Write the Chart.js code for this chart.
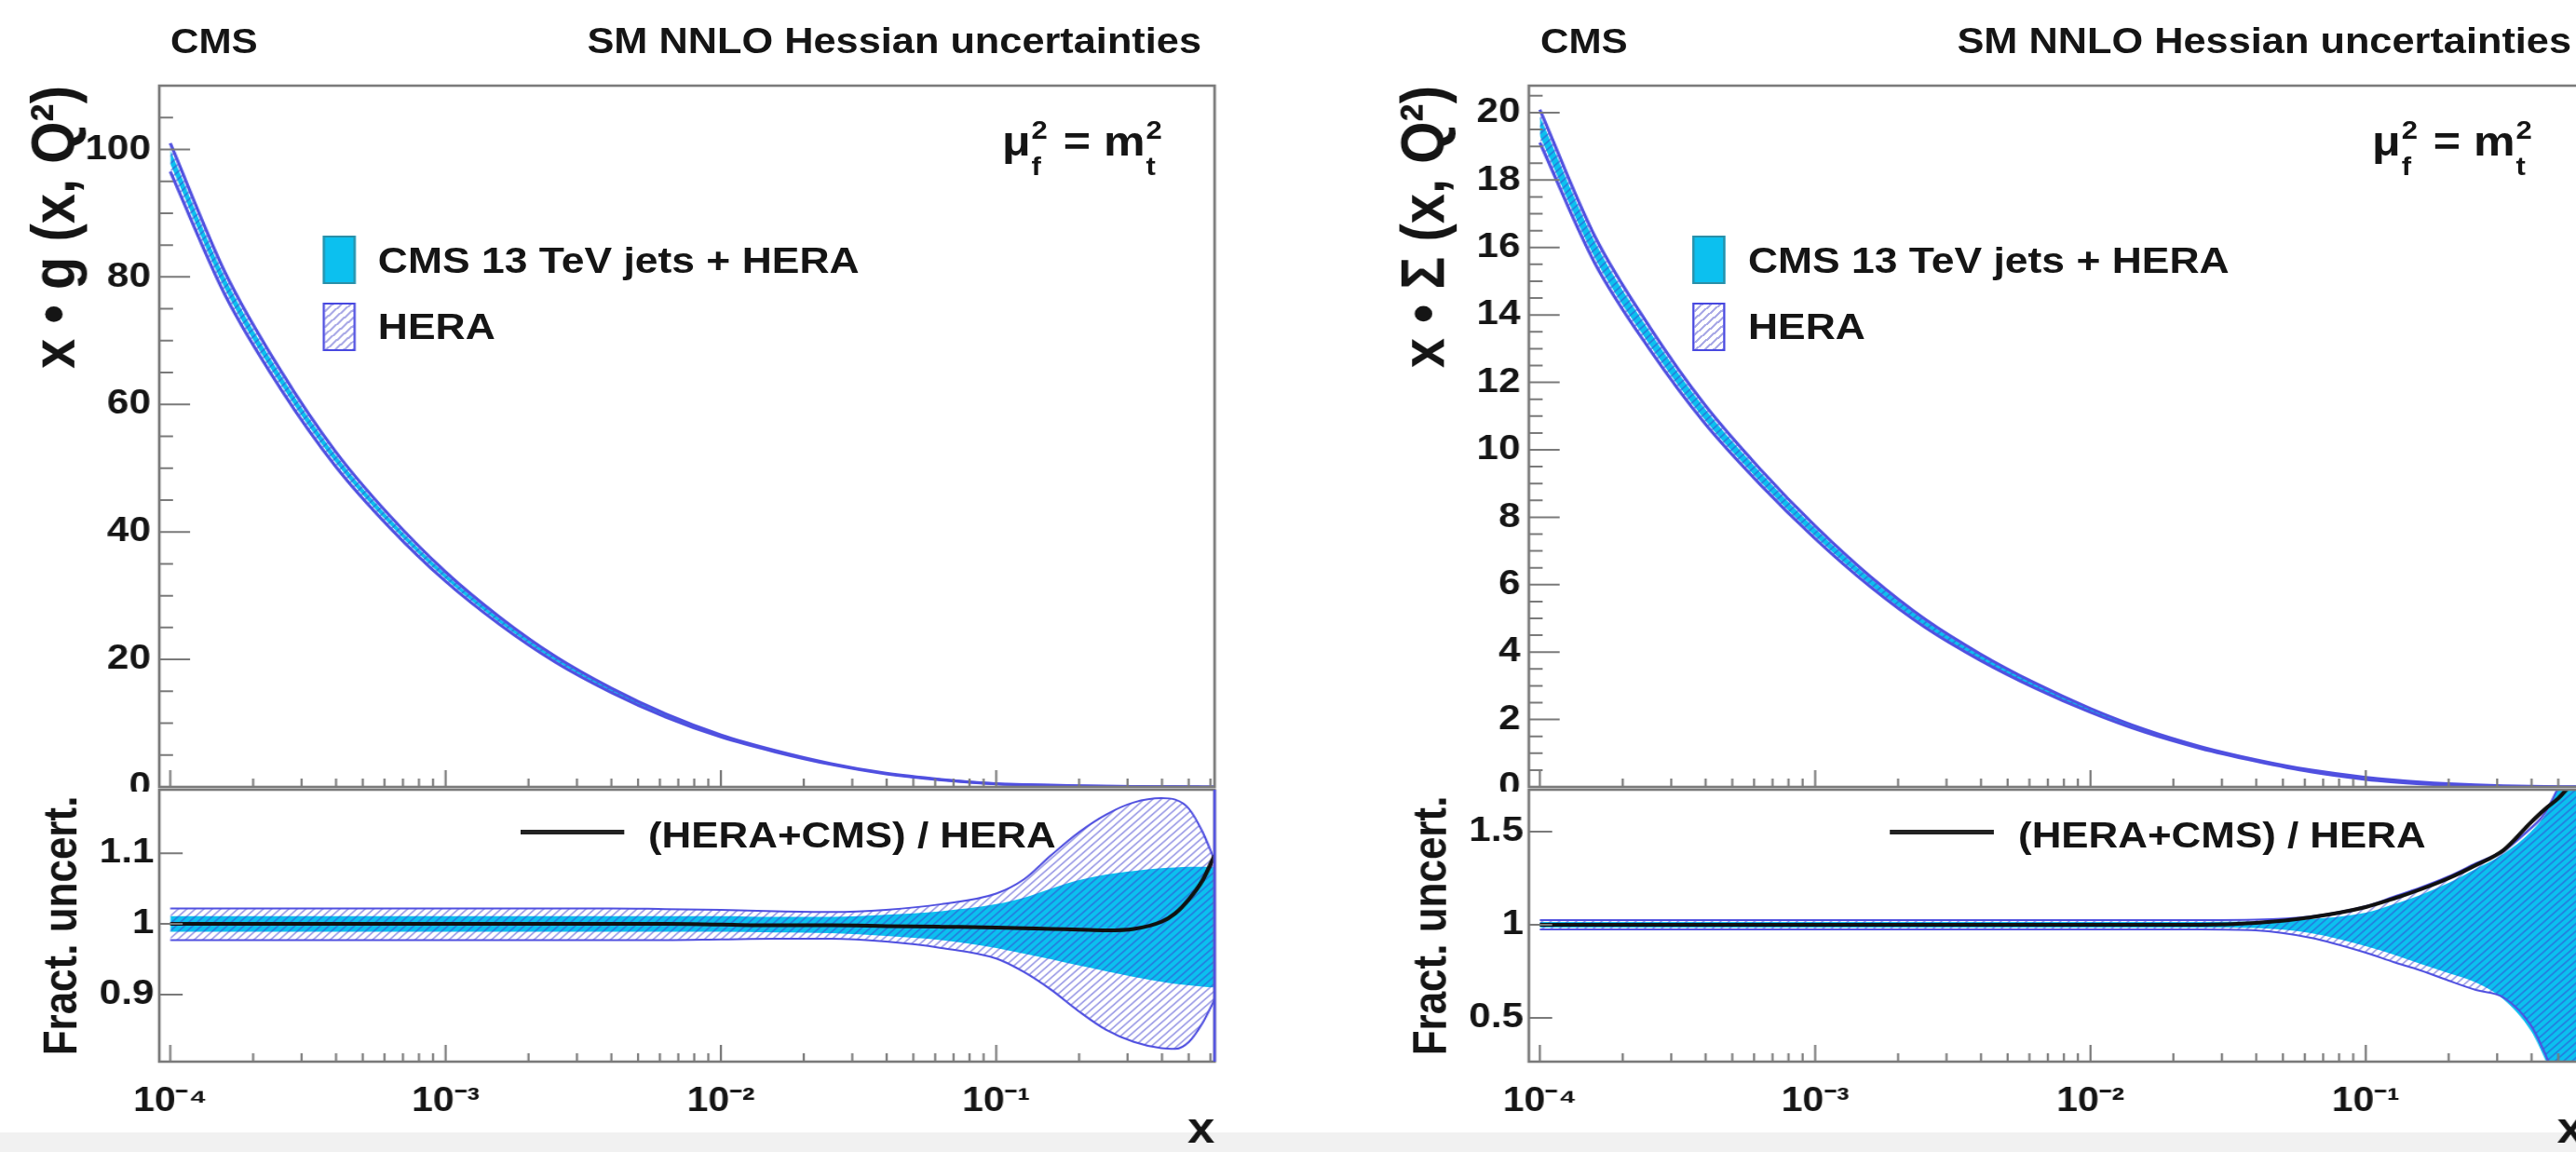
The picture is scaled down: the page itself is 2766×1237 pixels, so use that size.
<!DOCTYPE html>
<html>
<head>
<meta charset="utf-8">
<script src="https://cdn.jsdelivr.net/npm/chart.js@4.4.0/dist/chart.umd.min.js"></script>
<style>
  html, body { margin: 0; padding: 0; background: #fff; overflow: hidden; width: 2766px; height: 1237px; }
  #stage { position: absolute; left: 0; top: 0; width: 2460px; height: 1237px; transform: scaleX(1.14); transform-origin: 0 0; }
  #strip { position: absolute; left: 0; top: 1216px; width: 2460px; height: 21px; background: #f1f1f1; }
  canvas { position: absolute; }
  .t { position: absolute; font-family: "Liberation Sans", Arial, Helvetica, sans-serif; font-weight: bold; color: #151515; line-height: 1; white-space: nowrap; }
  .ss { display: inline-block; position: relative; width: 0.42em; height: 0; }
  .ss .up { position: absolute; left: 0.03em; bottom: 0.5em; font-size: 0.62em; line-height: 1; }
  .ss .dn { position: absolute; left: 0.03em; top: -0.05em; font-size: 0.62em; line-height: 1; }
  .box { position: absolute; width: 31.5px; height: 52px; box-sizing: border-box; }
  .cyanbox { background: #0cc0ef; border: 2px solid #2a8fa8; }
  .herabox { border: 2.5px solid #4848e0; background: repeating-linear-gradient(135deg, #fff 0 4px, #a9a9e6 4px 6px); }
  .lline { position: absolute; height: 5px; width: 98px; background: #222; }
</style>
</head>
<body>
<div id="stage">
  <div id="strip"></div>
</div>
<script>
// x grid shared by all curves
const xGrid = [0.0001, 0.000158, 0.000251, 0.000398, 0.000631, 0.001, 0.00158, 0.00251, 0.00398, 0.00631,
               0.01, 0.0158, 0.0251, 0.0398, 0.0631, 0.1, 0.126, 0.158, 0.2, 0.251,
               0.316, 0.398, 0.447, 0.501, 0.562, 0.621];

// upper panels: HERA central values
const gluonHera = [98.8, 79, 64, 51.5, 41.5, 33, 26, 20.0, 15.2, 11.2,
                   8.0, 5.6, 3.6, 2.1, 1.15, 0.5, 0.36, 0.25, 0.17, 0.11,
                   0.07, 0.04, 0.03, 0.02, 0.015, 0.01];
const sigmaHera = [19.6, 15.95, 13.3, 11.05, 9.2, 7.55, 6.1, 4.85, 3.85, 3.0,
                   2.27, 1.66, 1.17, 0.79, 0.48, 0.26, 0.18, 0.12, 0.075, 0.045,
                   0.025, 0.012, 0.008, 0.005, 0.004, 0.003];

// lower panels: fractional uncertainties (gluon)
const gHeraUp = [1.022, 1.022, 1.022, 1.022, 1.022, 1.022, 1.022, 1.022, 1.022, 1.021,
                 1.020, 1.018, 1.017, 1.020, 1.028, 1.043, 1.063, 1.097, 1.130, 1.155,
                 1.172, 1.178, 1.176, 1.163, 1.130, 1.090];
const gHeraDn = [0.977, 0.977, 0.977, 0.977, 0.977, 0.977, 0.977, 0.977, 0.977, 0.977,
                 0.978, 0.979, 0.979, 0.975, 0.966, 0.951, 0.932, 0.907, 0.876, 0.850,
                 0.833, 0.824, 0.823, 0.833, 0.860, 0.893];
const gCmsUp  = [1.011, 1.011, 1.011, 1.011, 1.011, 1.011, 1.011, 1.011, 1.011, 1.011,
                 1.011, 1.010, 1.010, 1.013, 1.018, 1.028, 1.037, 1.050, 1.062, 1.070,
                 1.075, 1.079, 1.080, 1.081, 1.081, 1.081];
const gCmsDn  = [0.989, 0.989, 0.989, 0.989, 0.989, 0.989, 0.989, 0.989, 0.989, 0.989,
                 0.989, 0.988, 0.987, 0.983, 0.977, 0.966, 0.958, 0.950, 0.941, 0.933,
                 0.925, 0.918, 0.915, 0.913, 0.911, 0.910];
const gRatio  = [1.0, 1.0, 1.0, 1.0, 1.0, 1.0, 1.0, 1.0, 1.0, 1.0,
                 0.999, 0.998, 0.998, 0.997, 0.996, 0.995, 0.994, 0.993, 0.992, 0.991,
                 0.993, 1.003, 1.015, 1.035, 1.062, 1.097];

// lower panels: fractional uncertainties (sigma)
const sHeraUp = [1.025, 1.025, 1.025, 1.025, 1.025, 1.025, 1.025, 1.025, 1.025, 1.025,
                 1.025, 1.025, 1.025, 1.027, 1.045, 1.10, 1.15, 1.20, 1.26, 1.33,
                 1.40, 1.52, 1.60, 1.74, 1.90, 2.0];
const sHeraDn = [0.975, 0.975, 0.975, 0.975, 0.975, 0.975, 0.975, 0.975, 0.975, 0.975,
                 0.975, 0.975, 0.975, 0.970, 0.930, 0.850, 0.800, 0.755, 0.700, 0.650,
                 0.610, 0.460, 0.310, 0.130, 0.0, -0.1];
const sCmsUp  = [1.015, 1.015, 1.015, 1.015, 1.015, 1.015, 1.015, 1.015, 1.015, 1.015,
                 1.015, 1.015, 1.015, 1.017, 1.030, 1.065, 1.11, 1.16, 1.225, 1.30,
                 1.38, 1.50, 1.59, 1.74, 1.90, 2.0];
const sCmsDn  = [0.985, 0.985, 0.985, 0.985, 0.985, 0.985, 0.985, 0.985, 0.985, 0.985,
                 0.985, 0.985, 0.985, 0.982, 0.955, 0.885, 0.840, 0.790, 0.740, 0.690,
                 0.600, 0.430, 0.280, 0.100, -0.05, -0.15];
const sRatio  = [1.0, 1.0, 1.0, 1.0, 1.0, 1.0, 1.0, 1.0, 1.0, 1.0,
                 1.0, 1.0, 1.0, 1.01, 1.04, 1.095, 1.14, 1.19, 1.25, 1.32,
                 1.40, 1.55, 1.62, 1.68, 1.76, 1.82];

// axis ticks and labels
const xDecades = [1e-4, 1e-3, 1e-2, 1e-1];
const xDecadeLabels = ['10\u207B\u2074', '10\u207B\u00B3', '10\u207B\u00B2', '10\u207B\u00B9'];
const gUpperTicks = [0, 20, 40, 60, 80, 100];
const sUpperTicks = [0, 2, 4, 6, 8, 10, 12, 14, 16, 18, 20];
const gLowerTicks = [0.9, 1, 1.1];
const sLowerTicks = [0.5, 1, 1.5];

const X_MIN = 9.12e-5, X_MAX = 0.621;
const CYAN = '#0cc0ef';
const HERA_LINE = '#5050e0';
const FRAME = '#7a7a7a';
const FONT = '"Liberation Sans", Arial, Helvetica, sans-serif';
const TXT = '#151515';

const stage = document.getElementById('stage');

function addText(html, css) {
  const d = document.createElement('div');
  d.className = 't';
  d.innerHTML = html;
  Object.assign(d.style, css);
  stage.appendChild(d);
  return d;
}

function addCanvas(left, top, w, h) {
  const c = document.createElement('canvas');
  c.width = w; c.height = h;
  c.style.left = left + 'px'; c.style.top = top + 'px';
  stage.appendChild(c);
  return c;
}

function hatchFor(canvas) {
  const step = 8;
  const tile = document.createElement('canvas');
  tile.width = tile.height = step;
  const g = tile.getContext('2d');
  g.strokeStyle = 'rgba(60,60,205,0.55)';
  g.lineWidth = 1.5;
  g.beginPath();
  g.moveTo(0, step); g.lineTo(step, 0);
  g.moveTo(-2, 2); g.lineTo(2, -2);
  g.moveTo(step - 2, step + 2); g.lineTo(step + 2, step - 2);
  g.stroke();
  return canvas.getContext('2d').createPattern(tile, 'repeat');
}

// ROOT-like frame with inward ticks
const rootFrame = {
  id: 'rootFrame',
  afterDatasetsDraw(chart, args, o) {
    const { ctx, chartArea: a, scales: { x, y } } = chart;
    ctx.save();
    ctx.strokeStyle = FRAME;
    ctx.lineWidth = 2;
    ctx.beginPath();
    o.yMajor.forEach(v => {
      const py = y.getPixelForValue(v);
      ctx.moveTo(a.left, py); ctx.lineTo(a.left + o.yMajorLen, py);
    });
    if (o.yMinorStep) {
      for (let v = y.min; v <= y.max + 1e-9; v += o.yMinorStep) {
        const r = Math.round(v / o.yMinorStep) * o.yMinorStep;
        if (r < y.min || r > y.max) continue;
        const py = y.getPixelForValue(r);
        ctx.moveTo(a.left, py); ctx.lineTo(a.left + o.yMinorLen, py);
      }
    }
    xDecades.forEach(d => {
      const px = x.getPixelForValue(d);
      ctx.moveTo(px, a.bottom); ctx.lineTo(px, a.bottom - o.xMajorLen);
      for (let k = 2; k <= 9; k++) {
        const v = d * k;
        if (v > x.max) break;
        const pm = x.getPixelForValue(v);
        ctx.moveTo(pm, a.bottom); ctx.lineTo(pm, a.bottom - o.xMinorLen);
      }
    });
    ctx.stroke();
    ctx.lineWidth = 2.6;
    ctx.strokeRect(a.left, a.top, a.width, a.height);
    if (o.rightEdge) {
      ctx.strokeStyle = o.rightEdge;
      ctx.beginPath();
      ctx.moveTo(a.right, a.top); ctx.lineTo(a.right, a.bottom);
      ctx.stroke();
    }
    ctx.restore();
  }
};

function pts(vals, scale) {
  return xGrid.map((x, i) => ({ x: x, y: scale ? scale[i] * vals[i] : vals[i] }));
}

function bandSets(hatch, heraUp, heraDn, cmsUp, cmsDn, central, lineW) {
  return [
    { data: pts(cmsDn, central), order: 4, borderWidth: 0, fill: false },
    { data: pts(cmsUp, central), order: 3, borderWidth: 0, fill: 0, backgroundColor: CYAN },
    { data: pts(heraDn, central), order: 2, borderColor: HERA_LINE, borderWidth: lineW, fill: false },
    { data: pts(heraUp, central), order: 1, borderColor: HERA_LINE, borderWidth: lineW, fill: 2, backgroundColor: hatch }
  ];
}

function baseOptions(frameOpts) {
  return {
    responsive: false,
    animation: false,
    events: [],
    elements: { point: { radius: 0 }, line: { cubicInterpolationMode: 'monotone' } },
    plugins: {
      legend: { display: false },
      tooltip: { enabled: false },
      filler: { drawTime: 'beforeDatasetsDraw' },
      rootFrame: frameOpts
    }
  };
}

function yScale(min, max, ticks, title, titleSize, titlePad, align, labelPad) {
  return {
    min: min, max: max,
    afterFit(s) { s.width = 150; s.paddingTop = 0; s.paddingBottom = 0; },
    afterBuildTicks(s) { s.ticks = ticks.map(v => ({ value: v })); },
    grid: { display: false, drawTicks: false },
    border: { display: false },
    ticks: { color: TXT, padding: labelPad, font: { family: FONT, size: 37, weight: 'bold' }, callback: v => String(v) },
    title: { display: true, text: title, align: align, color: TXT, padding: { top: titlePad, bottom: 0 },
             font: { family: FONT, size: titleSize, weight: 'bold', lineHeight: 1 } }
  };
}

function makePanel(off, p) {
  // upper
  const cu = addCanvas(off, 0, 1164, 850);
  const optU = baseOptions({ yMajor: p.upTicks, yMajorLen: 29, yMinorStep: p.upMinor, yMinorLen: 13, xMajorLen: 18, xMinorLen: 9 });
  optU.layout = { padding: { left: 0, top: 86, right: 20, bottom: 5 } };
  optU.scales = {
    x: { type: 'logarithmic', min: X_MIN, max: X_MAX, display: false },
    y: yScale(0, p.upMax, p.upTicks, p.upTitle, 58, 25, 'end', 8)
  };
  // keep the frame top at 92 while letting the title start a little higher
  optU.scales.y.afterFit = function (s) { s.width = 150; s.paddingTop = 0; s.paddingBottom = 0; };
  optU.layout.padding.top = 92;
  new Chart(cu, {
    type: 'line',
    data: { datasets: bandSets(hatchFor(cu), p.heraUp, p.heraDn, p.cmsUp, p.cmsDn, p.central, 3) },
    options: optU,
    plugins: [rootFrame]
  });

  // lower
  const cl = addCanvas(off, 840, 1164, 397);
  const optL = baseOptions({ yMajor: p.loTicks, yMajorLen: 22, yMinorStep: 0, xMajorLen: 18, xMinorLen: 9, rightEdge: p.rightEdge });
  optL.layout = { padding: { left: 0, top: 8, right: 20, bottom: 0 } };
  optL.scales = {
    x: {
      type: 'logarithmic', min: X_MIN, max: X_MAX,
      afterFit(s) { s.height = 97; s.paddingLeft = 0; s.paddingRight = 0; },
      afterBuildTicks(s) { s.ticks = xDecades.map(v => ({ value: v })); },
      grid: { display: false, drawTicks: false },
      border: { display: false },
      ticks: { color: TXT, padding: 21, autoSkip: false, maxRotation: 0,
               font: { family: FONT, size: 36, weight: 'bold' },
               callback: v => xDecadeLabels[xDecades.indexOf(v)] },
      title: { display: true, text: 'x', align: 'end', color: TXT, padding: 0,
               font: { family: FONT, size: 46, weight: 'bold', lineHeight: 1 } }
    },
    y: yScale(p.loMin, p.loMax, p.loTicks, 'Fract. uncert.', 44, 38, 'center', 5)
  };
  const lowSets = bandSets(hatchFor(cl), p.heraUp, p.heraDn, p.cmsUp, p.cmsDn, null, 2);
  lowSets.push({ data: pts(p.ratio), order: 0, borderColor: '#111', borderWidth: 4, fill: false });
  new Chart(cl, { type: 'line', data: { datasets: lowSets }, options: optL, plugins: [rootFrame] });

  // texts and legends
  addText('CMS', { left: (off + 160.5) + 'px', top: '25.7px', fontSize: '37px' });
  addText('SM NNLO Hessian uncertainties', { left: (off + 150) + 'px', width: '981.6px', textAlign: 'right', top: '24.8px', fontSize: '38px' });
  addText('\u03BC<span class="ss"><span class="up">2</span><span class="dn">f</span></span> = m<span class="ss"><span class="up">2</span><span class="dn">t</span></span>',
          { left: (off + 150) + 'px', width: '947px', textAlign: 'right', top: '129.8px', fontSize: '44px' });

  const b1 = document.createElement('div'); b1.className = 'box cyanbox';
  b1.style.left = (off + 303.5) + 'px'; b1.style.top = '253px'; stage.appendChild(b1);
  const b2 = document.createElement('div'); b2.className = 'box herabox';
  b2.style.left = (off + 303.5) + 'px'; b2.style.top = '325px'; stage.appendChild(b2);
  addText('CMS 13 TeV jets + HERA', { left: (off + 356) + 'px', top: '260px', fontSize: '39px' });
  addText('HERA', { left: (off + 356) + 'px', top: '331px', fontSize: '39px' });

  const ln = document.createElement('div'); ln.className = 'lline';
  ln.style.left = (off + 489.5) + 'px'; ln.style.top = '890.5px'; stage.appendChild(ln);
  addText('(HERA+CMS) / HERA', { left: (off + 610.5) + 'px', top: '878.2px', fontSize: '38.5px' });
}

makePanel(0, {
  central: gluonHera, heraUp: gHeraUp, heraDn: gHeraDn, cmsUp: gCmsUp, cmsDn: gCmsDn, ratio: gRatio,
  upMax: 110, upTicks: gUpperTicks, upMinor: 5, upTitle: 'x \u2022 g (x, Q\u00B2)',
  loMin: 0.805, loMax: 1.19, loTicks: gLowerTicks, rightEdge: HERA_LINE
});

makePanel(1290.4, {
  central: sigmaHera, heraUp: sHeraUp, heraDn: sHeraDn, cmsUp: sCmsUp, cmsDn: sCmsDn, ratio: sRatio,
  upMax: 20.8, upTicks: sUpperTicks, upMinor: 0.5, upTitle: 'x \u2022 \u03A3 (x, Q\u00B2)',
  loMin: 0.265, loMax: 1.725, loTicks: sLowerTicks, rightEdge: null
});
</script>
</body>
</html>
